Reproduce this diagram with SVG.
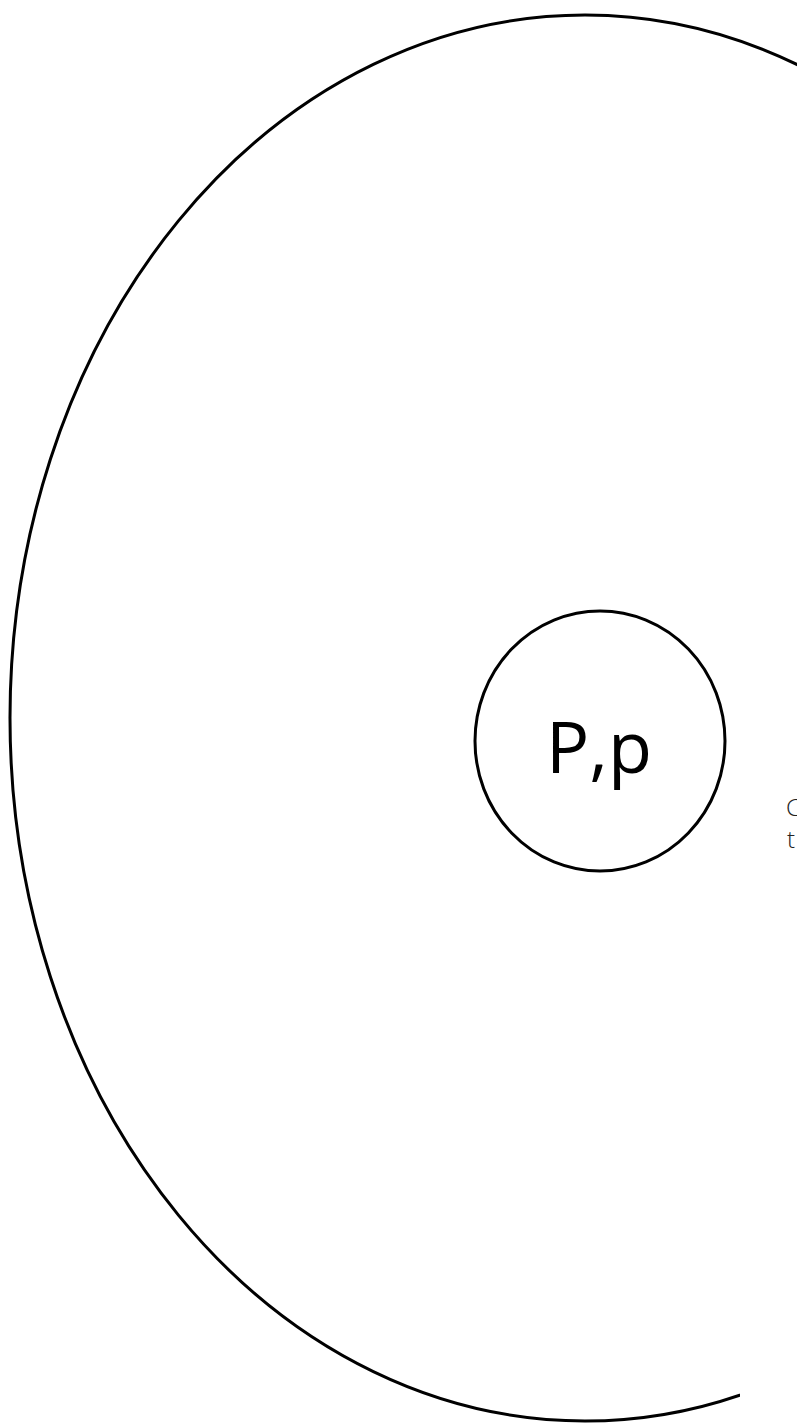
<svg xmlns="http://www.w3.org/2000/svg" width="797" height="1426" viewBox="0 0 797 1426">
<style>
.shape{fill:none;stroke:#000;stroke-width:3}
.big{font-family:"Open Sans","Liberation Sans",sans-serif;font-size:72px;fill:#000}
.small{font-family:"Open Sans","Liberation Sans",sans-serif;font-size:24px;font-weight:300;fill:#222}
</style>
<defs>
<clipPath id="cut"><path d="M0 0H797V1000H740V1426H0Z"/></clipPath>
</defs>
<rect width="797" height="1426" fill="#fff"/>
<g id="outer"><ellipse class="shape" cx="585" cy="718" rx="575" ry="703" clip-path="url(#cut)"/></g>
<g id="inner">
<ellipse class="shape" cx="600" cy="741" rx="125" ry="130"/>
<text class="big" x="599" y="773" text-anchor="middle">P,p</text>
</g>
<g id="label">
<text class="small" x="786" y="816">C</text>
<text class="small" x="787" y="848">t</text>
</g>
<g id="connectors"/>
</svg>
